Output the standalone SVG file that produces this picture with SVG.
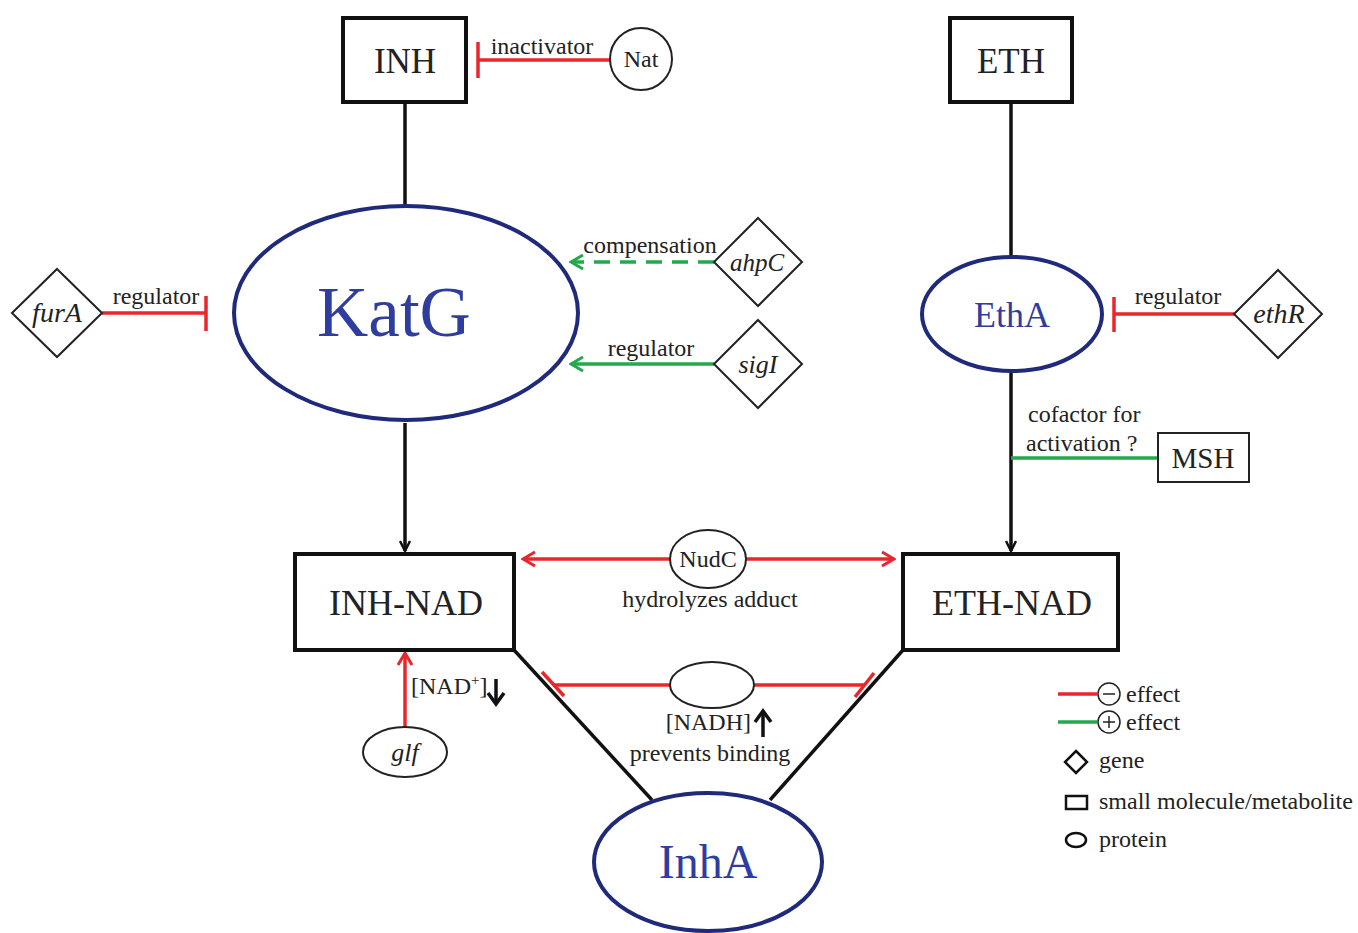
<svg xmlns="http://www.w3.org/2000/svg" width="1358" height="933" viewBox="0 0 1358 933">
<defs>
<style>
text{font-family:"Liberation Serif","Times New Roman",serif;fill:#222}
.box{fill:#fff;stroke:#111;stroke-width:4}
.thin{fill:#fff;stroke:#222;stroke-width:2}
.prot{fill:#fff;stroke:#1f2a7a;stroke-width:4}
.blk{stroke:#111;stroke-width:3.5;fill:none}
.red{stroke:#e8262b;stroke-width:3.5;fill:none}
.grn{stroke:#22a94c;stroke-width:3.5;fill:none}
.lbl{font-size:24px}
.it{font-style:italic}
.bt{fill:#2e3d9e}
</style>
<marker id="ab" viewBox="0 0 12 12" refX="11" refY="6" markerWidth="12" markerHeight="12" markerUnits="userSpaceOnUse" orient="auto"><path d="M1,1 L11,6 L1,11" fill="none" stroke="#111" stroke-width="2.5"/></marker>
<marker id="ar" viewBox="0 0 16 16" refX="14" refY="8" markerWidth="16" markerHeight="16" markerUnits="userSpaceOnUse" orient="auto-start-reverse"><path d="M2,1 L14,8 L2,15" fill="none" stroke="#e8262b" stroke-width="3"/></marker>
<marker id="ag" viewBox="0 0 16 16" refX="14" refY="8" markerWidth="16" markerHeight="16" markerUnits="userSpaceOnUse" orient="auto"><path d="M2,1 L14,8 L2,15" fill="none" stroke="#22a94c" stroke-width="3"/></marker>
</defs>
<rect width="1358" height="933" fill="#fff"/>
<g id="connectors">
<line class="blk" x1="405" y1="102" x2="405" y2="205"/>
<line class="blk" x1="405" y1="423" x2="405" y2="551" marker-end="url(#ab)"/>
<line class="blk" x1="1011" y1="102" x2="1011" y2="256"/>
<line class="blk" x1="1011" y1="370" x2="1011" y2="551" marker-end="url(#ab)"/>
<line class="blk" x1="514" y1="650" x2="652" y2="800"/>
<line class="blk" x1="903" y1="650" x2="770" y2="800"/>
<line class="red" x1="610" y1="60" x2="478" y2="60"/>
<line class="red" x1="478" y1="42" x2="478" y2="78"/>
<text class="lbl" x="542" y="54" text-anchor="middle">inactivator</text>
<line class="red" x1="102" y1="313" x2="206" y2="313"/>
<line class="red" x1="206" y1="296" x2="206" y2="331"/>
<text class="lbl" x="156" y="304" text-anchor="middle">regulator</text>
<line class="grn" x1="714" y1="262" x2="571" y2="262" stroke-dasharray="16,10" marker-end="url(#ag)"/>
<text class="lbl" x="650" y="253" text-anchor="middle">compensation</text>
<line class="grn" x1="714" y1="364" x2="571" y2="364" marker-end="url(#ag)"/>
<text class="lbl" x="651" y="356" text-anchor="middle">regulator</text>
<line class="red" x1="1234" y1="314" x2="1114" y2="314"/>
<line class="red" x1="1114" y1="297" x2="1114" y2="332"/>
<text class="lbl" x="1178" y="304" text-anchor="middle">regulator</text>
<line class="grn" x1="1011" y1="458" x2="1158" y2="458"/>
<text class="lbl" x="1028" y="422">cofactor for</text>
<text class="lbl" x="1026" y="451">activation ?</text>
<line class="red" x1="670" y1="559" x2="523" y2="559" marker-end="url(#ar)"/>
<line class="red" x1="746" y1="559" x2="894" y2="559" marker-end="url(#ar)"/>
<text class="lbl" x="710" y="607" text-anchor="middle">hydrolyzes adduct</text>
<line class="red" x1="670" y1="685" x2="553" y2="685"/>
<line class="red" x1="542" y1="672" x2="564" y2="696"/>
<line class="red" x1="754" y1="685" x2="864" y2="685"/>
<line class="red" x1="874" y1="673" x2="855" y2="697"/>
<text class="lbl" x="751" y="730" text-anchor="end">[NADH]</text>
<line x1="763" y1="737" x2="763" y2="714" stroke="#111" stroke-width="3.5"/>
<path d="M755,722 L763,711 L771,722" fill="none" stroke="#111" stroke-width="3.5"/>
<text class="lbl" x="710" y="761" text-anchor="middle">prevents binding</text>
<line class="red" x1="405" y1="728" x2="405" y2="653" marker-end="url(#ar)"/>
<text class="lbl" x="411" y="694">[NAD<tspan font-size="15" dy="-9">+</tspan><tspan dy="9">]</tspan></text>
<line x1="496" y1="679" x2="496" y2="702" stroke="#111" stroke-width="3.5"/>
<path d="M488,693 L496,704 L504,693" fill="none" stroke="#111" stroke-width="3.5"/>
</g>
<g id="INH"><rect class="box" x="343" y="18" width="123" height="84"/><text x="405" y="73" font-size="35" text-anchor="middle">INH</text></g>
<g id="Nat"><circle class="thin" cx="641" cy="59" r="31"/><text x="641" y="67" font-size="24" text-anchor="middle">Nat</text></g>
<g id="ETH"><rect class="box" x="950" y="18" width="122" height="84"/><text x="1011" y="73" font-size="35" text-anchor="middle">ETH</text></g>
<g id="KatG"><ellipse class="prot" cx="406" cy="313" rx="172" ry="107"/><text class="bt" x="394" y="336" font-size="71" text-anchor="middle">KatG</text></g>
<g id="furA"><path class="thin" d="M57,269 L102,313 L57,357 L12,313 Z"/><text class="it" x="57" y="322" font-size="28" text-anchor="middle">furA</text></g>
<g id="ahpC"><path class="thin" d="M758,218 L802,262 L758,306 L714,262 Z"/><text class="it" x="757" y="271" font-size="25" text-anchor="middle">ahpC</text></g>
<g id="sigI"><path class="thin" d="M758,320 L802,364 L758,408 L714,364 Z"/><text class="it" x="758" y="373" font-size="26" text-anchor="middle">sigI</text></g>
<g id="EthA"><ellipse class="prot" cx="1012" cy="314" rx="90" ry="57"/><text class="bt" x="1012" y="327" font-size="36" text-anchor="middle">EthA</text></g>
<g id="ethR"><path class="thin" d="M1278,270 L1322,314 L1278,358 L1234,314 Z"/><text class="it" x="1279" y="323" font-size="28" text-anchor="middle">ethR</text></g>
<g id="MSH"><rect class="thin" x="1158" y="433" width="91" height="49"/><text x="1203" y="468" font-size="29" text-anchor="middle">MSH</text></g>
<g id="INH-NAD"><rect class="box" x="295" y="554" width="219" height="96"/><text x="406" y="615" font-size="36" text-anchor="middle">INH-NAD</text></g>
<g id="ETH-NAD"><rect class="box" x="903" y="554" width="215" height="96"/><text x="1012" y="615" font-size="36" text-anchor="middle">ETH-NAD</text></g>
<g id="NudC"><ellipse class="thin" cx="708" cy="559" rx="38" ry="29"/><text x="708" y="567" font-size="24" text-anchor="middle">NudC</text></g>
<g id="NADH-protein"><ellipse class="thin" cx="712" cy="685" rx="42" ry="23"/></g>
<g id="glf"><ellipse class="thin" cx="405" cy="752" rx="42" ry="25"/><text class="it" x="405" y="761" font-size="26" text-anchor="middle">glf</text></g>
<g id="InhA"><ellipse class="prot" cx="708" cy="862" rx="114" ry="69"/><text class="bt" x="708" y="878" font-size="48" text-anchor="middle">InhA</text></g>
<g id="legend">
<line class="red" x1="1058" y1="694" x2="1097" y2="694"/>
<circle cx="1109" cy="694" r="11" fill="none" stroke="#222" stroke-width="1.5"/>
<line x1="1103" y1="694" x2="1115" y2="694" stroke="#222" stroke-width="1.5"/>
<text class="lbl" x="1126" y="702">effect</text>
<line class="grn" x1="1058" y1="722" x2="1097" y2="722"/>
<circle cx="1109" cy="722" r="11" fill="none" stroke="#222" stroke-width="1.5"/>
<line x1="1103" y1="722" x2="1115" y2="722" stroke="#222" stroke-width="1.5"/>
<line x1="1109" y1="716" x2="1109" y2="728" stroke="#222" stroke-width="1.5"/>
<text class="lbl" x="1126" y="730">effect</text>
<path d="M1076,751 L1087,762 L1076,773 L1065,762 Z" fill="none" stroke="#111" stroke-width="2.5"/>
<text class="lbl" x="1099" y="768">gene</text>
<rect x="1066" y="796" width="21" height="13" fill="none" stroke="#111" stroke-width="2.5"/>
<text class="lbl" x="1099" y="809">small molecule/metabolite</text>
<ellipse cx="1076" cy="840" rx="10" ry="7" fill="none" stroke="#111" stroke-width="2.5"/>
<text class="lbl" x="1099" y="847">protein</text>
</g>
</svg>
